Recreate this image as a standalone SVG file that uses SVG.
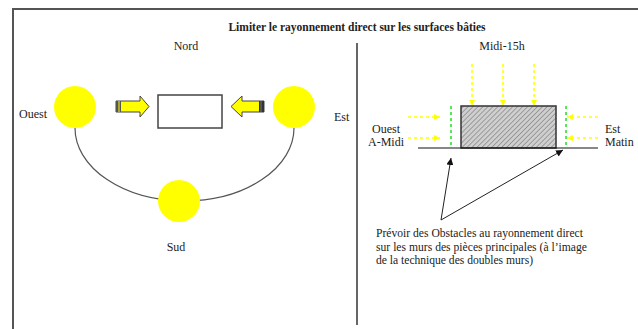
<svg xmlns="http://www.w3.org/2000/svg" width="638" height="329" viewBox="0 0 638 329">
<style>
  text { font-family: "Liberation Serif", "Times New Roman", serif; fill: #222; font-size: 12px; }
  .title { font-weight: bold; font-size: 11.5px; }
  .note { font-size: 11.6px; }
  .frame { stroke: #555; stroke-width: 2; fill: none; }
  .sun { fill: #ffff00; }
  .ydash { stroke: #ffff00; stroke-width: 1.5; stroke-dasharray: 3 3; fill: none; }
  .gdash { stroke: #22dd22; stroke-width: 1.5; stroke-dasharray: 3 3; fill: none; }
  .barrow { fill: #ffff00; stroke: #444; stroke-width: 1; }
</style>
<defs>
  <pattern id="hatch" width="3.5" height="3.5" patternUnits="userSpaceOnUse" patternTransform="rotate(45)">
    <rect width="3.5" height="3.5" fill="#cfcfcf"/>
    <line x1="0" y1="0" x2="0" y2="3.5" stroke="#666" stroke-width="1"/>
  </pattern>
  <marker id="yhead" viewBox="0 0 10 10" refX="10" refY="5" markerWidth="6" markerHeight="6" markerUnits="userSpaceOnUse" orient="auto">
    <path d="M0,0 L10,5 L0,10 z" fill="#ffff00"/>
  </marker>
  <marker id="khead" viewBox="0 0 10 10" refX="10" refY="5" markerWidth="7" markerHeight="7" markerUnits="userSpaceOnUse" orient="auto">
    <path d="M0,0 L10,5 L0,10 z" fill="#111"/>
  </marker>
</defs>
<rect width="638" height="329" fill="#fff"/>
<path class="frame" d="M13,329 V9 H638"/>
<line x1="357" y1="43" x2="357" y2="325" stroke="#333" stroke-width="1.5"/>
<text class="title" x="357" y="31" text-anchor="middle">Limiter le rayonnement direct sur les surfaces bâties</text>

<g id="connectors">
  <path d="M75,128 A109.5,73 0 0 0 294,128" fill="none" stroke="#555" stroke-width="1.2"/>
  <line class="ydash" x1="472" y1="64" x2="472" y2="106" marker-end="url(#yhead)"/>
  <line class="ydash" x1="503" y1="64" x2="503" y2="106" marker-end="url(#yhead)"/>
  <line class="ydash" x1="534" y1="64" x2="534" y2="106" marker-end="url(#yhead)"/>
  <line class="ydash" x1="408" y1="117" x2="440" y2="117" marker-end="url(#yhead)"/>
  <line class="ydash" x1="408" y1="138" x2="440" y2="138" marker-end="url(#yhead)"/>
  <line class="ydash" x1="598" y1="117" x2="567" y2="117" marker-end="url(#yhead)"/>
  <line class="ydash" x1="598" y1="138" x2="567" y2="138" marker-end="url(#yhead)"/>
  <line x1="441" y1="220" x2="451" y2="158" stroke="#222" stroke-width="1" marker-end="url(#khead)"/>
  <line x1="441" y1="220" x2="563" y2="150" stroke="#222" stroke-width="1" marker-end="url(#khead)"/>
</g>

<g id="nord"><text x="186" y="50" text-anchor="middle">Nord</text></g>
<g id="sun-ouest">
  <circle class="sun" cx="75" cy="107" r="21"/>
  <text x="19" y="118">Ouest</text>
</g>
<g id="sun-est">
  <circle class="sun" cx="294" cy="107" r="21"/>
  <text x="334" y="121">Est</text>
</g>
<g id="sun-sud">
  <circle class="sun" cx="179" cy="201" r="21"/>
  <text x="176" y="251" text-anchor="middle">Sud</text>
</g>
<g id="maison">
  <rect x="158" y="95" width="64" height="33" fill="#fff" stroke="#444" stroke-width="1.5"/>
</g>
<g id="fleche-gauche">
  <polygon class="barrow" points="116,101 140,101 140,96 149,106.5 140,117 140,112 116,112"/>
  <rect x="116" y="101" width="5" height="11" fill="#555"/>
  <line x1="119" y1="101" x2="119" y2="112" stroke="#ffff00" stroke-width="1"/>
</g>
<g id="fleche-droite">
  <polygon class="barrow" points="264,101 242,101 242,96 231,106.5 242,117 242,112 264,112"/>
  <rect x="259" y="101" width="5" height="11" fill="#333"/>
  <line x1="261" y1="101" x2="261" y2="112" stroke="#777" stroke-width="1"/>
</g>

<g id="midi"><text x="502" y="50" text-anchor="middle">Midi-15h</text></g>
<g id="batiment">
  <rect x="461" y="106" width="95" height="42" fill="url(#hatch)" stroke="#333" stroke-width="1.5"/>
  <line x1="418" y1="148" x2="598" y2="148" stroke="#111" stroke-width="1.2"/>
</g>
<g id="obstacle-ouest">
  <line class="gdash" x1="451" y1="106" x2="451" y2="148"/>
</g>
<g id="obstacle-est">
  <line class="gdash" x1="566" y1="106" x2="566" y2="148"/>
</g>
<g id="label-ouest">
  <text x="386" y="133" text-anchor="middle">Ouest</text>
  <text x="386" y="146" text-anchor="middle">A-Midi</text>
</g>
<g id="label-est">
  <text x="605" y="133">Est</text>
  <text x="605" y="146">Matin</text>
</g>
<g id="note">
  <text class="note" x="376" y="237" textLength="207" lengthAdjust="spacing">Prévoir des Obstacles au rayonnement direct</text>
  <text class="note" x="376" y="250.5" textLength="211" lengthAdjust="spacing">sur les murs des pièces principales (à l’image</text>
  <text class="note" x="376" y="264" textLength="157" lengthAdjust="spacing">de la technique des doubles murs)</text>
</g>
</svg>
